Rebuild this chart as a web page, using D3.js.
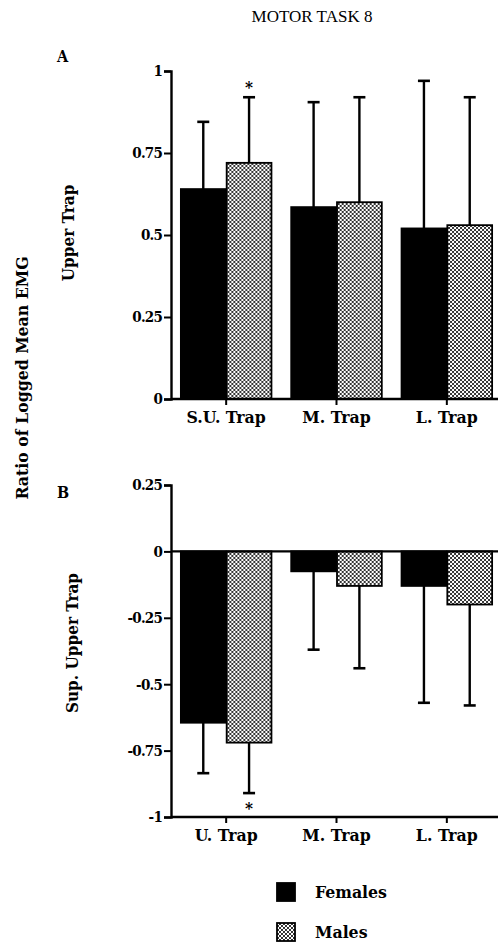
<!DOCTYPE html>
<html>
<head>
<meta charset="utf-8">
<script src="https://cdn.jsdelivr.net/npm/d3@7"></script>
<style>
  body { margin: 0; background: #fff; }
  svg { display: block; }
  text { font-family: "DejaVu Serif", serif; }
  .b { font-family: "DejaVu Serif Condensed", "DejaVu Serif", serif; font-weight: bold; }
</style>
</head>
<body>
<div id="chart"></div>
<script>
const groups = ["Females", "Males"];

const categoriesA = ["S.U. Trap", "M. Trap", "L. Trap"];
const femalesA = [0.64, 0.585, 0.52];
const femalesASd = [0.205, 0.32, 0.45];
const malesA = [0.72, 0.60, 0.53];
const malesASd = [0.20, 0.32, 0.39];
const starsA = [[0, "Males"]];
const ticksA = [0, 0.25, 0.5, 0.75, 1];

const categoriesB = ["U. Trap", "M. Trap", "L. Trap"];
const femalesB = [-0.645, -0.075, -0.13];
const femalesBSd = [0.19, 0.295, 0.44];
const malesB = [-0.72, -0.13, -0.20];
const malesBSd = [0.19, 0.31, 0.38];
const starsB = [[0, "Males"]];
const ticksB = [0.25, 0, -0.25, -0.5, -0.75, -1];

const width = 498, height = 946;

const svg = d3.select("#chart")
    .append("svg")
    .attr("width", width)
    .attr("height", height);

// dotted fill used for the males bars
const pat = svg.append("defs").append("pattern")
    .attr("id", "dots")
    .attr("patternUnits", "userSpaceOnUse")
    .attr("width", 4)
    .attr("height", 4);
pat.append("rect").attr("width", 4).attr("height", 4).attr("fill", "#fff");
[[0, 0], [4, 0], [0, 4], [4, 4], [2, 2]].forEach(p => {
    pat.append("circle").attr("cx", p[0]).attr("cy", p[1]).attr("r", 1.05).attr("fill", "#000");
});

const fillOf = g => g === "Females" ? "#000" : "url(#dots)";
const fmt = d => d === 0 ? "0" : String(d);

svg.append("text")
    .attr("x", 312).attr("y", 22)
    .attr("text-anchor", "middle")
    .style("font-family", "'Liberation Serif', serif")
    .style("font-size", "17px")
    .text("MOTOR TASK 8");

svg.append("text")
    .attr("class", "b")
    .attr("transform", "translate(28, 378) rotate(-90)")
    .attr("text-anchor", "middle")
    .style("font-size", "17.5px")
    .text("Ratio of Logged Mean EMG");

function panel(cfg) {
    const { cats, fem, femSd, mal, malSd, stars, ticks, domain, yRange, letter, letterY, ylabel, ylabelX, ylabelY, starBelow } = cfg;

    const y = d3.scaleLinear().domain(domain).range(yRange);
    const x0 = d3.scaleBand().domain(cats).range([171, 502]).paddingInner(0.17).paddingOuter(0.085);
    const x1 = d3.scaleBand().domain(groups).range([0, x0.bandwidth()]);

    const rows = cats.map((c, i) => ({
        cat: c,
        items: [
            { g: "Females", v: fem[i], sd: femSd[i] },
            { g: "Males", v: mal[i], sd: malSd[i] }
        ]
    }));

    const g = svg.append("g");

    g.append("text")
        .attr("class", "b")
        .attr("x", 57).attr("y", letterY)
        .style("font-size", "16px")
        .text(letter);

    g.append("text")
        .attr("class", "b")
        .attr("transform", `translate(${ylabelX}, ${ylabelY}) rotate(-90)`)
        .attr("text-anchor", "middle")
        .style("font-size", "17px")
        .text(ylabel);

    const grp = g.selectAll(".grp")
        .data(rows)
        .enter().append("g")
        .attr("transform", d => `translate(${x0(d.cat)},0)`);

    // error bars, one-sided away from zero
    grp.selectAll(".err")
        .data(d => d.items)
        .enter().append("g")
        .each(function(d) {
            const cx = x1(d.g) + x1.bandwidth() / 2;
            const end = d.v >= 0 ? d.v + d.sd : d.v - d.sd;
            const s = d3.select(this);
            s.append("line")
                .attr("x1", cx).attr("x2", cx)
                .attr("y1", y(d.v)).attr("y2", y(end))
                .attr("stroke", "#000").attr("stroke-width", 2.4);
            s.append("line")
                .attr("x1", cx - 6).attr("x2", cx + 6)
                .attr("y1", y(end)).attr("y2", y(end))
                .attr("stroke", "#000").attr("stroke-width", 2.6);
        });

    grp.selectAll("rect")
        .data(d => d.items)
        .enter().append("rect")
        .attr("x", d => x1(d.g) + 0.5)
        .attr("width", x1.bandwidth() - 1)
        .attr("y", d => y(Math.max(0, d.v)))
        .attr("height", d => Math.abs(y(d.v) - y(0)))
        .attr("fill", d => fillOf(d.g))
        .attr("stroke", "#000")
        .attr("stroke-width", 1.8);

    stars.forEach(([i, gname]) => {
        const v = gname === "Males" ? mal[i] : fem[i];
        const sd = gname === "Males" ? malSd[i] : femSd[i];
        const end = v >= 0 ? v + sd : v - sd;
        g.append("text")
            .attr("class", "b")
            .attr("x", x0(cats[i]) + x1(gname) + x1.bandwidth() / 2)
            .attr("y", y(end) + (starBelow ? 21 : -4))
            .attr("text-anchor", "middle")
            .style("font-size", "17px")
            .text("*");
    });

    // y axis
    const ya = g.append("g")
        .attr("transform", "translate(171,0)")
        .call(d3.axisLeft(y).tickValues(ticks).tickFormat(fmt).tickSize(7).tickPadding(2));
    ya.select(".domain").attr("stroke-width", 2.4);
    ya.selectAll(".tick line").attr("stroke-width", 2);
    ya.selectAll("text")
        .attr("class", "b")
        .style("font-size", "15px")
        .attr("letter-spacing", "-0.8px");

    // zero line
    if (y(0) !== yRange[0]) {
        g.append("line")
            .attr("x1", 171).attr("x2", 498)
            .attr("y1", y(0)).attr("y2", y(0))
            .attr("stroke", "#000").attr("stroke-width", 2.2);
    }

    // x axis at bottom
    const xa = g.append("g")
        .attr("transform", `translate(0,${yRange[0]})`)
        .call(d3.axisBottom(x0).tickSize(6).tickSizeOuter(0).tickPadding(6));
    xa.select(".domain").attr("d", "M171,0H498").attr("stroke-width", 2.4);
    xa.selectAll(".tick line").attr("stroke-width", 2);
    xa.selectAll("text")
        .attr("class", "b")
        .style("font-size", "17.5px");
}

panel({
    cats: categoriesA, fem: femalesA, femSd: femalesASd, mal: malesA, malSd: malesASd,
    stars: starsA, ticks: ticksA, domain: [0, 1], yRange: [399, 71],
    letter: "A", letterY: 62, ylabel: "Upper Trap", ylabelX: 74, ylabelY: 233, starBelow: false
});

panel({
    cats: categoriesB, fem: femalesB, femSd: femalesBSd, mal: malesB, malSd: malesBSd,
    stars: starsB, ticks: ticksB, domain: [-1, 0.25], yRange: [817, 485],
    letter: "B", letterY: 498, ylabel: "Sup. Upper Trap", ylabelX: 78, ylabelY: 643, starBelow: true
});

// legend
const leg = svg.append("g");
groups.forEach((gname, i) => {
    const yy = 883 + i * 40;
    leg.append("rect")
        .attr("x", 277).attr("y", yy)
        .attr("width", 18).attr("height", 18)
        .attr("fill", fillOf(gname))
        .attr("stroke", "#000").attr("stroke-width", 1.8);
    leg.append("text")
        .attr("class", "b")
        .attr("x", 315).attr("y", yy + 15)
        .style("font-size", "17.5px")
        .text(gname);
});
</script>
</body>
</html>
